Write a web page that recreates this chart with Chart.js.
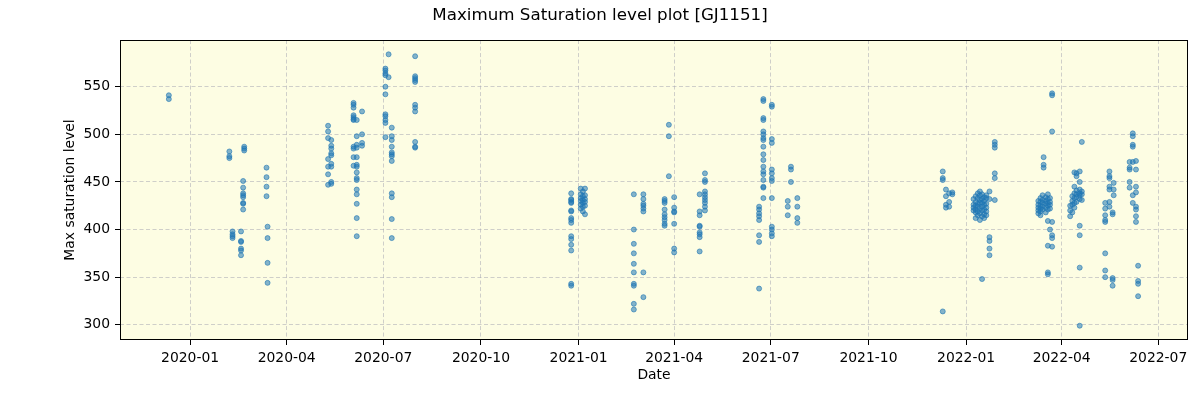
<!DOCTYPE html>
<html>
<head>
<meta charset="utf-8">
<title>Maximum Saturation level plot [GJ1151]</title>
<script src="https://cdn.jsdelivr.net/npm/chart.js@4.4.1/dist/chart.umd.min.js"></script>
<style>
  body { margin: 0; background: #fff; }
</style>
</head>
<body>
<canvas id="satChart" width="1200" height="400"></canvas>
<script>
// one entry per observing night, levels
const nightDates = [
  "2019-12-12",
  "2020-02-07", "2020-02-10", "2020-02-18", "2020-02-20", "2020-02-21",
  "2020-03-13", "2020-03-14",
  "2020-05-10", "2020-05-13",
  "2020-06-03", "2020-06-06", "2020-06-11",
  "2020-07-03", "2020-07-06", "2020-07-09", "2020-07-31",
  "2020-12-25",
  "2021-01-03", "2021-01-05", "2021-01-07",
  "2021-02-22", "2021-03-03", "2021-03-23", "2021-03-27",
  "2021-04-01", "2021-04-25", "2021-04-30",
  "2021-06-20", "2021-06-24", "2021-07-02",
  "2021-07-17", "2021-07-20", "2021-07-26",
  "2021-12-10", "2021-12-13", "2021-12-16", "2021-12-19",
  "2022-01-08", "2022-01-10", "2022-01-12", "2022-01-14", "2022-01-16",
  "2022-01-18", "2022-01-20", "2022-01-23", "2022-01-28",
  "2022-03-10", "2022-03-12", "2022-03-14", "2022-03-15", "2022-03-17",
  "2022-03-19", "2022-03-21", "2022-03-23",
  "2022-04-09", "2022-04-11", "2022-04-13", "2022-04-15", "2022-04-18", "2022-04-20",
  "2022-05-12", "2022-05-16", "2022-05-19", "2022-05-20",
  "2022-06-04", "2022-06-07", "2022-06-10", "2022-06-12"
];

const nightLevels = [
  [541, 537],
  [482, 477, 475],
  [398, 395, 393, 391],
  [398, 388, 387, 380, 378, 373],
  [451, 444, 438, 436, 434, 428, 427, 421],
  [487, 485, 483],
  [465, 455, 445, 435],
  [403, 391, 365, 344],
  [509, 503, 496, 474, 466, 458, 447],
  [494, 488, 485, 480, 478, 469, 466, 450, 448],
  [533, 531, 528, 520, 518, 516, 515, 487, 485, 476, 467],
  [515, 498, 489, 486, 476, 468, 466, 460, 454, 452, 442, 437, 427, 412, 393],
  [524, 500, 491, 488],
  [569, 567, 564, 562, 550, 542, 521, 519, 515, 512, 497],
  [584, 560],
  [507, 498, 494, 487, 481, 479, 477, 472, 438, 434, 411, 391],
  [582, 561, 559, 557, 555, 531, 528, 524, 492, 487, 486],
  [438, 432, 431, 429, 428, 420, 419, 412, 410, 407, 393, 390, 384, 378, 343, 341],
  [443, 437, 433, 430, 426, 422],
  [440, 435, 431, 428, 424, 419],
  [443, 436, 432, 429, 425, 416],
  [437, 400, 385, 375, 364, 355, 343, 341, 322, 316],
  [437, 432, 427, 425, 422, 419, 355, 329],
  [432, 430, 428, 421, 416, 413, 410, 406, 404],
  [510, 498, 456],
  [434, 423, 419, 418, 406, 380, 376],
  [437, 419, 415, 404, 403, 397, 395, 392, 377],
  [459, 452, 450, 440, 437, 434, 431, 428, 424, 420],
  [424, 421, 417, 414, 410, 394, 387, 338],
  [537, 535, 517, 515, 503, 500, 496, 494, 487, 479, 473, 466, 461, 458, 452, 445, 444, 433],
  [531, 529, 495, 491, 463, 459, 454, 451, 433, 403, 400, 396, 393],
  [430, 424, 415],
  [466, 463, 450],
  [433, 424, 412, 407],
  [461, 454, 452, 314],
  [442, 435, 426, 423],
  [438, 429, 424],
  [439, 437],
  [432, 426, 423, 420],
  [435, 429, 425, 421, 418, 412],
  [438, 433, 427, 424, 419, 415],
  [440, 436, 431, 428, 422, 417, 410],
  [437, 432, 428, 424, 420, 414, 348],
  [434, 430, 426, 421, 416, 412],
  [436, 433, 427, 423, 419, 415],
  [440, 432, 392, 388, 380, 373],
  [492, 489, 486, 459, 454, 431],
  [430, 426, 423, 420, 417],
  [433, 429, 425, 422, 419, 415],
  [436, 431, 428, 424, 421],
  [476, 468, 465],
  [434, 430, 427, 423, 418],
  [437, 432, 428, 425, 421, 409, 383, 355, 353],
  [433, 429, 426, 422, 400],
  [543, 541, 503, 408, 394, 391, 382],
  [425, 420, 414],
  [435, 430, 426, 418],
  [460, 445, 438, 433, 428, 423],
  [459, 456, 441, 437, 434, 429],
  [461, 450, 442, 438, 436, 432, 404, 394, 360, 299],
  [492, 440, 437, 431],
  [428, 422, 415, 410, 408, 375, 357, 350],
  [461, 456, 454, 445, 442, 429, 424],
  [418, 416, 349, 347, 341],
  [449, 442, 436],
  [471, 465, 463, 450, 444],
  [501, 498, 489, 487, 471, 436, 428],
  [472, 463, 445, 439, 424, 421, 414, 408],
  [362, 346, 343, 330]
];

const xTickLabels = ["2020-01", "2020-04", "2020-07", "2020-10", "2021-01", "2021-04",
  "2021-07", "2021-10", "2022-01", "2022-04", "2022-07"];
const yTickValues = [300, 350, 400, 450, 500, 550];
const xRange = ["2019-10-27", "2022-07-29"];
const yRange = [284, 599];

const dayZero = Date.UTC(2020, 0, 1);
const toDay = (s) => {
  const [y, m, d] = s.split("-").map(Number);
  return (Date.UTC(y, m - 1, d || 1) - dayZero) / 86400000;
};

const points = [];
nightDates.forEach((date, i) => {
  nightLevels[i].forEach((v) => points.push({ x: toDay(date), y: v }));
});

const font = { family: "DejaVu Sans", size: 13.9 };
const gridColor = "rgba(170,170,180,0.55)";

// yellow plot background and black box round the axes
const framePlugin = {
  id: "frame",
  beforeDraw(chart) {
    const { ctx, chartArea: a } = chart;
    ctx.save();
    ctx.fillStyle = "#fff";
    ctx.fillRect(0, 0, chart.width, chart.height);
    ctx.fillStyle = "#fdfde3";
    ctx.fillRect(a.left, a.top, a.right - a.left, a.bottom - a.top);
    ctx.restore();
  },
  afterDraw(chart) {
    const { ctx, chartArea: a } = chart;
    ctx.save();
    ctx.strokeStyle = "#000";
    ctx.lineWidth = 1;
    ctx.strokeRect(Math.round(a.left) + 0.5, Math.round(a.top) + 0.5,
      Math.round(a.right - a.left) - 1, Math.round(a.bottom - a.top) - 1);
    ctx.restore();
  }
};

new Chart(document.getElementById("satChart"), {
  type: "scatter",
  data: {
    datasets: [{
      data: points,
      backgroundColor: "rgba(31,119,180,0.55)",
      borderColor: "rgba(31,119,180,0.6)",
      borderWidth: 1,
      pointRadius: 2.5,
      pointHoverRadius: 2.5
    }]
  },
  options: {
    responsive: false,
    animation: false,
    layout: { padding: { left: 12, right: 12, top: 0, bottom: 0 } },
    plugins: {
      legend: { display: false },
      tooltip: { enabled: false },
      title: {
        display: true,
        text: "Maximum Saturation level plot [GJ1151]",
        color: "#000",
        font: { family: "DejaVu Sans", size: 16.7, weight: "normal" },
        padding: { top: 6, bottom: 14 }
      }
    },
    scales: {
      x: {
        type: "linear",
        min: toDay(xRange[0]),
        max: toDay(xRange[1]),
        afterBuildTicks: (scale) => {
          scale.ticks = xTickLabels.map((l) => ({ value: toDay(l) }));
        },
        afterFit: (scale) => { scale.height = 60; },
        ticks: {
          color: "#000",
          font: font,
          padding: 5,
          maxRotation: 0,
          autoSkip: false,
          callback: (value, index) => xTickLabels[index]
        },
        grid: { color: gridColor, tickColor: "#000", tickLength: 5, tickBorderDash: [] },
        border: { display: false, dash: [4, 2.5] },
        title: { display: true, text: "Date", color: "#000", font: font, padding: { top: 0, bottom: 16.7 } }
      },
      y: {
        min: yRange[0],
        max: yRange[1],
        afterBuildTicks: (scale) => {
          scale.ticks = yTickValues.map((v) => ({ value: v }));
        },
        afterFit: (scale) => { scale.width = 108; },
        ticks: { color: "#000", font: font, padding: 5 },
        grid: { color: gridColor, tickColor: "#000", tickLength: 5, tickBorderDash: [] },
        border: { display: false, dash: [4, 2.5] },
        title: { display: true, text: "Max saturation level", color: "#000", font: font, padding: { top: 49.7, bottom: 0 } }
      }
    }
  },
  plugins: [framePlugin]
});
</script>
</body>
</html>
